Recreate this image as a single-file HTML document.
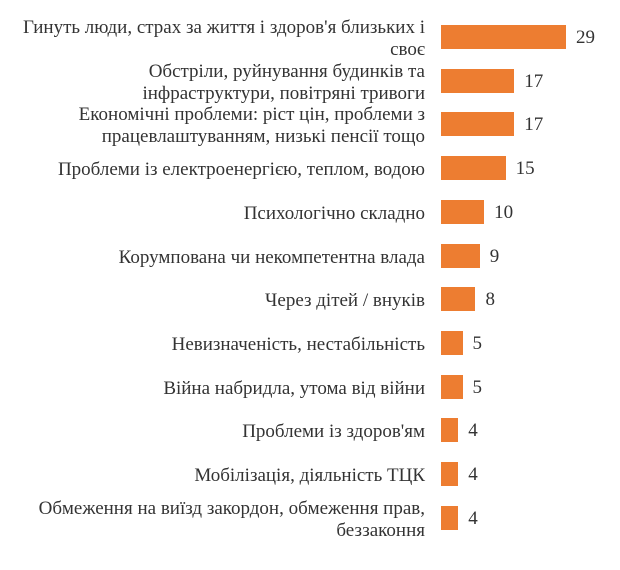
<!DOCTYPE html>
<html><head><meta charset="utf-8"><style>
body{margin:0;background:#fff;width:620px;height:570px;overflow:hidden;font-family:"Liberation Serif",serif;color:#333;}
.r{position:absolute;left:0;width:620px;height:24px;}
.l{position:absolute;right:195px;width:430px;text-align:right;font-size:19px;line-height:22px;top:calc(50% + 2px);transform:translateY(-50%);white-space:nowrap;}
.b{position:absolute;left:441px;top:0;height:24px;background:#ed7d31;}
.v{position:absolute;font-size:19px;line-height:24px;top:1px;}
</style></head><body>
<div id="c"></div>
<script>
var d=[["Гинуть люди, страх за життя і здоров'я близьких і<br>своє",29],["Обстріли, руйнування будинків та<br>інфраструктури, повітряні тривоги",17],["Економічні проблеми: ріст цін, проблеми з<br>працевлаштуванням, низькі пенсії тощо",17],["Проблеми із електроенергією, теплом, водою",15],["Психологічно складно",10],["Корумпована чи некомпетентна влада",9],["Через дітей / внуків",8],["Невизначеність, нестабільність",5],["Війна набридла, утома від війни",5],["Проблеми із здоров'ям",4],["Мобілізація, діяльність ТЦК",4],["Обмеження на виїзд закордон, обмеження прав,<br>беззаконня",4]];
var h="";
d.forEach(function(x,i){var t=25+i*43.7,w=x[1]*4.31;
h+='<div class="r" style="top:'+t+'px"><div class="l">'+x[0]+'</div><div class="b" style="width:'+w+'px"></div><div class="v" style="left:'+(441+w+10)+'px">'+x[1]+'</div></div>';});
document.getElementById("c").innerHTML=h;
</script>
</body></html>
